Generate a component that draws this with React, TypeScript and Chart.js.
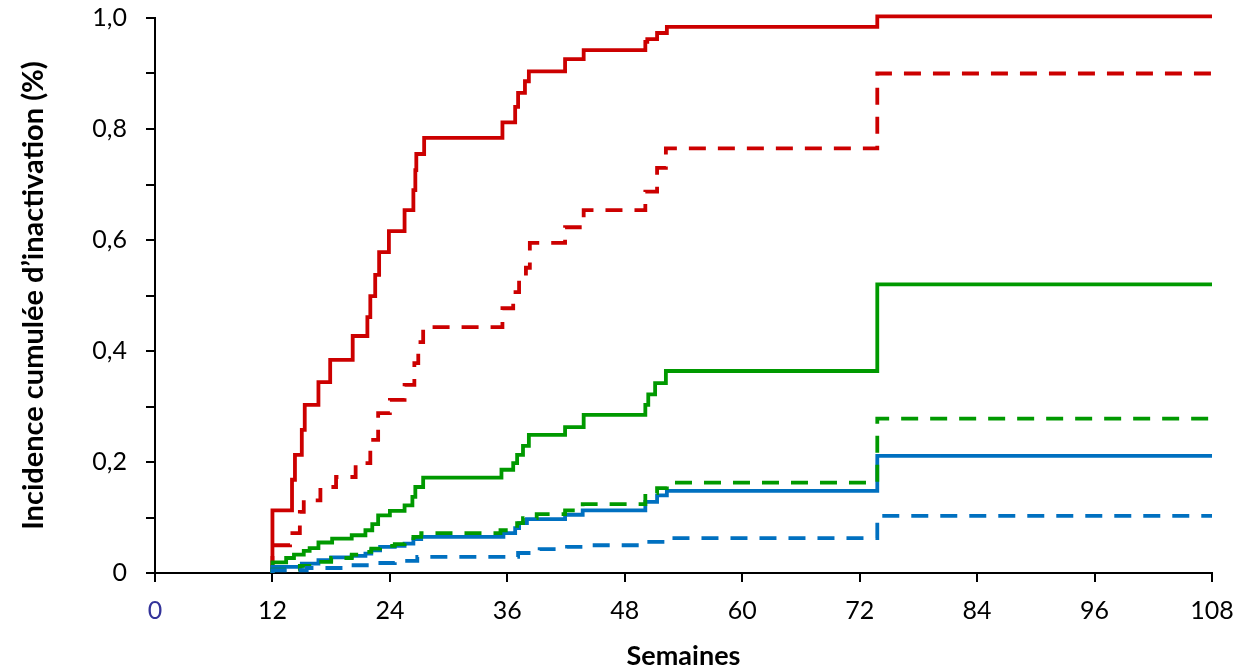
import React, { useEffect, useRef } from "react";
import { Chart, registerables } from "chart.js";

Chart.register(...registerables);

// ---- Data (weeks, cumulative incidence) ----
const redSolidX = [12, 12, 14.0, 14.3, 15.0, 15.3, 16.7, 17.9, 20.2, 21.7, 22.0, 22.5, 22.9, 23.9, 25.5, 26.4, 26.6, 26.7, 27.5, 35.5, 36.8, 37.1, 37.8, 38.2, 41.9, 43.8, 50.1, 50.3, 51.3, 52.3, 73.8, 108];
const redSolidY = [0, 0.113, 0.168, 0.213, 0.258, 0.303, 0.344, 0.384, 0.427, 0.461, 0.499, 0.537, 0.578, 0.616, 0.654, 0.69, 0.726, 0.755, 0.784, 0.812, 0.84, 0.865, 0.886, 0.904, 0.926, 0.942, 0.957, 0.962, 0.973, 0.984, 1.003, 1.003];

const redDashX = [12, 12, 13.8, 14.8, 15.2, 16.9, 18.5, 20.5, 22.0, 22.8, 24.0, 25.5, 26.5, 26.9, 27.4, 35.5, 36.6, 37.2, 37.9, 38.3, 41.9, 43.8, 50.1, 51.3, 52.2, 73.8, 108];
const redDashY = [0, 0.05, 0.072, 0.11, 0.131, 0.155, 0.173, 0.198, 0.24, 0.288, 0.312, 0.339, 0.378, 0.416, 0.443, 0.477, 0.506, 0.535, 0.55, 0.595, 0.623, 0.654, 0.687, 0.73, 0.765, 0.9, 0.9];

const greenSolidX = [12, 12, 13.4, 14.2, 15.2, 15.8, 16.7, 18.1, 20.1, 21.5, 22.2, 22.8, 24.0, 25.5, 26.3, 26.6, 27.4, 35.4, 36.6, 37.0, 37.6, 38.2, 41.9, 43.8, 50.1, 50.4, 51.1, 52.2, 73.8, 108];
const greenSolidY = [0, 0.019, 0.027, 0.033, 0.04, 0.045, 0.055, 0.062, 0.068, 0.077, 0.088, 0.104, 0.112, 0.122, 0.137, 0.155, 0.172, 0.186, 0.198, 0.213, 0.229, 0.249, 0.263, 0.285, 0.303, 0.322, 0.342, 0.364, 0.52, 0.52];

const greenDashX = [12, 12, 14.8, 16.5, 18.0, 20.1, 21.5, 22.1, 23.0, 24.5, 25.5, 26.4, 27.2, 35.3, 37.0, 37.6, 39.0, 41.9, 43.7, 50.1, 51.3, 52.3, 73.8, 108];
const greenDashY = [0, 0.006, 0.013, 0.02, 0.027, 0.033, 0.038, 0.044, 0.049, 0.052, 0.058, 0.065, 0.072, 0.077, 0.09, 0.099, 0.106, 0.113, 0.124, 0.144, 0.153, 0.163, 0.278, 0.278];

const blueSolidX = [12, 12, 15.0, 16.7, 18.0, 20.1, 21.5, 22.1, 23.0, 24.5, 25.5, 26.4, 27.2, 35.6, 36.8, 37.2, 38.0, 41.9, 43.7, 50.1, 51.3, 52.3, 73.8, 108];
const blueSolidY = [0, 0.011, 0.017, 0.023, 0.028, 0.031, 0.035, 0.041, 0.047, 0.049, 0.053, 0.061, 0.065, 0.072, 0.081, 0.09, 0.097, 0.105, 0.113, 0.128, 0.14, 0.148, 0.211, 0.211];

const blueDashX = [12, 12, 15.5, 19.5, 22.0, 24.5, 26.8, 37.1, 39.3, 42.1, 44.5, 50.3, 52.3, 73.8, 108];
const blueDashY = [0, 0.005, 0.009, 0.014, 0.018, 0.022, 0.029, 0.036, 0.043, 0.047, 0.05, 0.056, 0.063, 0.103, 0.103];

const xTickLabels = ["0", "12", "24", "36", "48", "60", "72", "84", "96", "108"];
const yTickLabels = ["0", "", "0,2", "", "0,4", "", "0,6", "", "0,8", "", "1,0"];

const RED = "#cc0000";
const GREEN = "#009900";
const BLUE = "#0070c0";

function pts(xs: number[], ys: number[]) {
  return xs.map((x, i) => ({ x, y: ys[i] }));
}

export default function App() {
  const ref = useRef<HTMLCanvasElement | null>(null);

  useEffect(() => {
    if (!ref.current) return;
    const dash = [17, 12];
    const mk = (label: string, xs: number[], ys: number[], color: string, dashed: boolean) => ({
      label,
      data: pts(xs, ys),
      borderColor: color,
      backgroundColor: color,
      borderWidth: 3.8,
      borderDash: dashed ? dash : [],
      stepped: "before" as const,
      pointRadius: 0,
      fill: false,
      clip: false as const,
      borderCapStyle: "butt" as const,
      borderJoinStyle: "miter" as const,
    });
    const chart = new Chart(ref.current, {
      type: "line",
      data: {
        datasets: [
          mk("bleu pointillé", blueDashX, blueDashY, BLUE, true),
          mk("vert pointillé", greenDashX, greenDashY, GREEN, true),
          mk("bleu", blueSolidX, blueSolidY, BLUE, false),
          mk("vert", greenSolidX, greenSolidY, GREEN, false),
          mk("rouge pointillé", redDashX, redDashY, RED, true),
          mk("rouge", redSolidX, redSolidY, RED, false),
        ],
      },
      options: {
        animation: false,
        responsive: false,
        maintainAspectRatio: false,
        layout: { padding: { top: 18, right: 38, left: 0, bottom: 0 } },
        plugins: { legend: { display: false }, tooltip: { enabled: false } },
        scales: {
          x: {
            type: "linear",
            min: 0,
            max: 108,
            afterFit: (s: any) => {
              s.height = 95;
              s.paddingLeft = 0;
              s.paddingRight = 0;
            },
            border: { color: "#000", width: 2 },
            grid: { drawOnChartArea: false, drawTicks: true, tickLength: 9, color: "#000", lineWidth: 2 },
            ticks: {
              stepSize: 12,
              autoSkip: false,
              maxRotation: 0,
              padding: 14,
              color: (c: any) => (c.index === 0 ? "#33339a" : "#000"),
              font: { family: "Lato", size: 25 },
              callback: (_v: any, i: number) => xTickLabels[i],
            },
            title: {
              display: true,
              text: "Semaines",
              color: "#000",
              font: { family: "Lato", size: 27, weight: "bold", lineHeight: 1 },
              padding: { top: 0, bottom: -2 },
            },
          },
          y: {
            type: "linear",
            min: 0,
            max: 1,
            afterFit: (s: any) => {
              s.width = 155;
              s.paddingTop = 0;
              s.paddingBottom = 0;
            },
            border: { color: "#000", width: 2 },
            grid: { drawOnChartArea: false, drawTicks: true, tickLength: 9, color: "#000", lineWidth: 2 },
            ticks: {
              stepSize: 0.1,
              autoSkip: false,
              padding: 19,
              color: "#000",
              font: { family: "Lato", size: 25 },
              callback: (_v: any, i: number) => yTickLabels[i],
            },
            title: {
              display: true,
              text: "Incidence cumulée d’inactivation (%)",
              color: "#000",
              font: { family: "Lato", size: 29, weight: "bold", lineHeight: 1 },
              padding: { top: 19, bottom: 0 },
            },
          },
        },
      },
    });
    return () => chart.destroy();
  }, []);

  return (
    <div style={{ position: "absolute", left: 0, top: 0, width: 1250, height: 668, background: "#fff" }}>
      <canvas ref={ref} width={1250} height={668} />
    </div>
  );
}
